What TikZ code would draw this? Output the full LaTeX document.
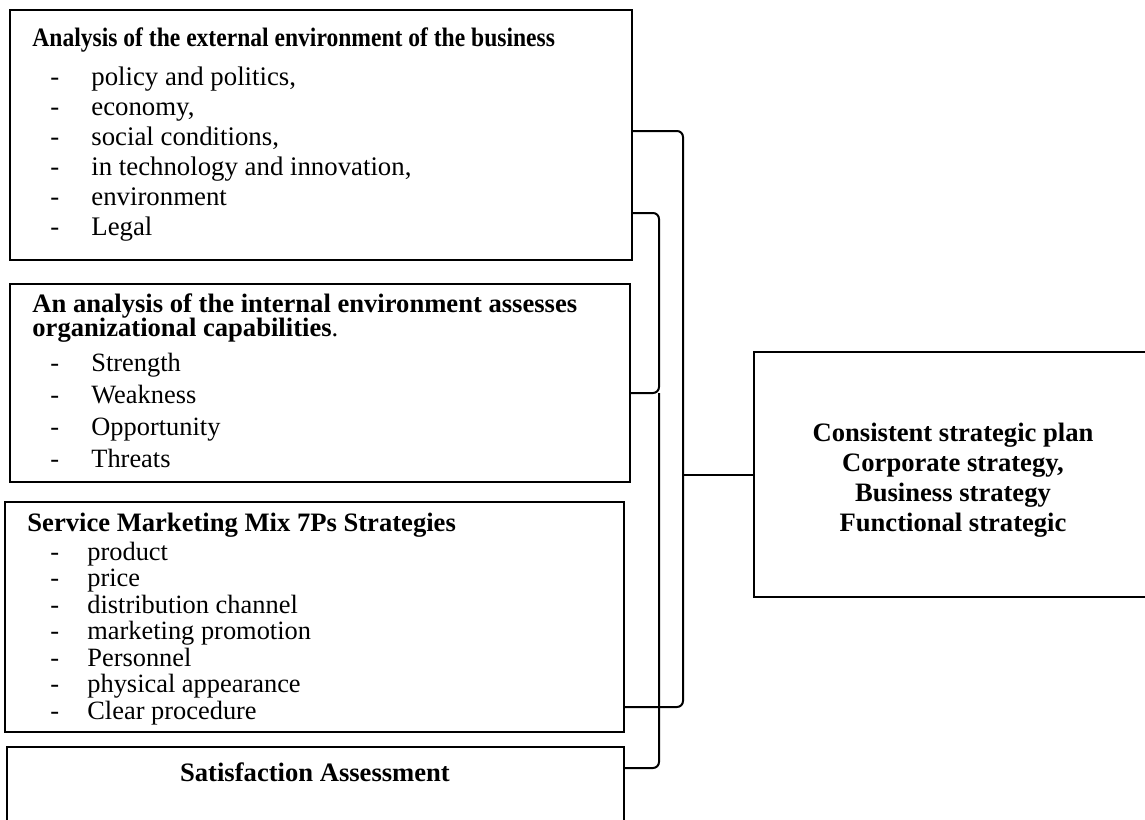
\documentclass[tikz,border=0pt]{standalone}
\usepackage{fontspec}
\setmainfont{Liberation Serif}
\usetikzlibrary{calc}

\newcommand{\boxhead}{\fontsize{13.3}{13.3}\selectfont\bfseries}
\newcommand{\boxitem}{\fontsize{13.2}{15}\selectfont}
\newcommand{\boxitemA}{\fontsize{13.4}{16}\selectfont}
\newcommand{\dashitem}{\makebox[20.5pt][l]{-}}

\tikzset{
  box/.style={draw, line width=1.1pt, inner sep=0pt, outer sep=0pt, anchor=north west},
  link/.style={line width=1pt, rounded corners=3pt},
  txt/.style={anchor=base west, inner sep=0pt},
  ctxt/.style={anchor=base, inner sep=0pt, font=\boxhead},
}

\begin{document}
\begin{tikzpicture}[x=0.5pt,y=0.5pt,yscale=-1,xscale=1]
        \useasboundingbox (0,0) rectangle (1145,819);

        % boxes
        \node[box, minimum width=311pt, minimum height=125pt] (ext) at (10,10) {};
        \node[box, minimum width=310pt, minimum height=99pt] (int) at (10,284) {};
        \node[box, minimum width=309.5pt, minimum height=115pt] (mix) at (5,502) {};
        \node[box, minimum width=308.5pt, minimum height=55pt] (sat) at (7,747) {};
        \node[box, minimum width=199pt, minimum height=122.5pt] (plan) at (754,352) {};

        % external environment
        \node[txt, font=\boxhead] (extTitle) at (32,46.7) {\scalebox{0.886}[1]{Analysis of the external environment of the business}};
        \foreach \t [count=\i] in {{policy and politics,},{economy,},{social conditions,},{in technology and innovation,},{environment},{Legal}}
          \node[txt, font=\boxitemA] (ext\i) at (50,{85+30*(\i-1)}) {\dashitem\t};

        % internal environment
        \node[txt, font=\boxhead] (intTitle) at (32,312) {An analysis of the internal environment assesses};
        \node[txt, font=\boxhead\mdseries] (intTitleB) at (32,336) {\textbf{organizational capabilities}.};
        \foreach \t [count=\i] in {Strength,Weakness,Opportunity,Threats}
          \node[txt, font=\boxitem] (int\i) at (50,{371+32.3*(\i-1)}) {\dashitem\t};

        % 7Ps
        \node[txt, font=\boxhead] (mixTitle) at (27,531.7) {Service Marketing Mix 7Ps Strategies};
        \foreach \t [count=\i] in {product,price,distribution channel,marketing promotion,Personnel,physical appearance,Clear procedure}
          \node[txt, font=\boxitem] (mix\i) at (50,{560+26.5*(\i-1)}) {\makebox[18.5pt][l]{-}\t};

        % satisfaction
        \node[ctxt] (satTitle) at (315,781.7) {Satisfaction Assessment};

        % strategic plan
        \foreach \t [count=\i] in {Consistent strategic plan,{Corporate strategy,},Business strategy,Functional strategic}
          \node[ctxt] (plan\i) at (953,{441+30*(\i-1)}) {\t};

        % brackets
        \coordinate (outer) at (683,0);
        \coordinate (inner) at (659,0);
        \coordinate (aTop) at ($(ext.east)+(0,-4)$);
        \coordinate (aEnd) at ($(mix.south east)+(0,-25)$);
        \coordinate (bTop) at ($(ext.south east)+(0,-47)$);
        \coordinate (bEnd) at ($(int.east)+(0,10)$);
        \coordinate (cEnd) at ($(sat.north east)+(0,21)$);

        \draw[link] (aTop) -- (aTop -| outer) -- (aEnd -| outer) -- (aEnd);
        \draw[link] (plan.west) -- (plan.west -| outer);
        \draw[link] (bTop) -- (bTop -| inner) -- (bEnd -| inner) -- (bEnd);
        \draw[link] (bEnd -| inner) -- (cEnd -| inner) -- (cEnd);
\end{tikzpicture}
\end{document}
